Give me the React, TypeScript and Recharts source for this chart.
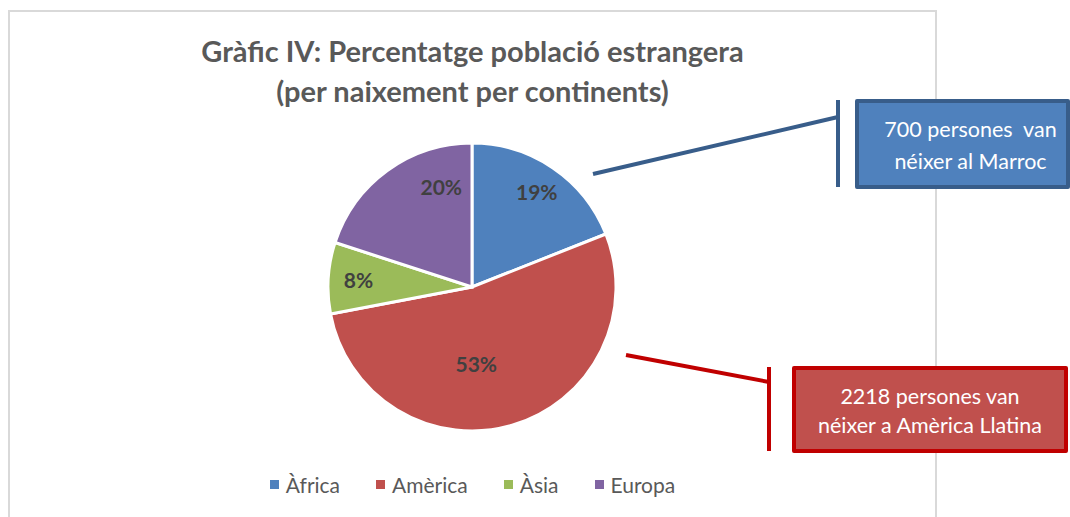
import { PieChart, Pie, Cell, Legend } from "recharts";

// continents and their share (%)
const continents = ["Àfrica", "Amèrica", "Àsia", "Europa"];
const shares = [19, 53, 8, 20];
const colors = ["#4f81bd", "#c0504d", "#9bbb59", "#8064a2"];
// where each percentage label sits: fraction of the radius, and turn from the slice middle (deg)
const labelRadius = [0.8, 0.53, 0.79, 0.73];
const labelTurn = [0, -13, 0, -19];

const titleLines = ["Gràfic IV: Percentatge població estrangera", "(per naixement per continents)"];

const callouts = [
    { text: ["700 persones  van", "néixer al Marroc"], fill: "#4f81bd", border: "#385d8a" },
    { text: ["2218 persones van", "néixer a Amèrica Llatina"], fill: "#c0504d", border: "#c00000" },
];

const FONT = "Lato, 'Open Sans', sans-serif";

const data = continents.map((name, i) => ({ name, value: shares[i] }));

const RAD = Math.PI / 180;

const renderLabel = (props: any) => {
    const { cx, cy, midAngle, outerRadius, index, percent } = props;
    const r = outerRadius * labelRadius[index];
    const a = midAngle + labelTurn[index];
    const x = cx + r * Math.cos(-a * RAD);
    const y = cy + r * Math.sin(-a * RAD);
    return (
        <text x={x} y={y} fill="#404040" fontSize={21} fontWeight={700} fontFamily={FONT}
            textAnchor="middle" dominantBaseline="central">
            {Math.round(percent * 100)}%
        </text>
    );
};

const renderLegend = () => (
    <div style={{ display: "flex", justifyContent: "center", gap: 36, fontFamily: FONT, fontSize: 21, color: "#595959" }}>
        {continents.map((c, i) => (
            <div key={c} style={{ display: "flex", alignItems: "center" }}>
                <span style={{ width: 9, height: 9, background: colors[i], marginRight: 7, display: "inline-block" }} />
                {c}
            </div>
        ))}
    </div>
);

export default function App() {
    return (
        <div style={{ position: "relative", width: 1070, height: 517, overflow: "hidden", background: "#fff" }}>
            <style>{`body{margin:0}`}</style>

            {/* chart area frame */}
            <div style={{ position: "absolute", left: 8, top: 10, width: 925, height: 520, border: "2px solid #d9d9d9" }} />

            <div style={{ position: "absolute", left: 10, top: 31, width: 925, textAlign: "center", fontFamily: FONT, fontWeight: 700, fontSize: 29, color: "#595959", lineHeight: "40px" }}>
                {titleLines.map((t) => <div key={t}>{t}</div>)}
            </div>

            <div style={{ position: "absolute", left: 0, top: 0 }}>
                <PieChart width={1070} height={517} margin={{ top: 0, right: 0, bottom: 0, left: 0 }}>
                    <Pie data={data} dataKey="value" nameKey="name" cx={472} cy={287} outerRadius={144}
                        startAngle={90} endAngle={-270} stroke="#fff" strokeWidth={3}
                        label={renderLabel} labelLine={false} isAnimationActive={false}>
                        {data.map((d, i) => <Cell key={d.name} fill={colors[i]} />)}
                    </Pie>
                    <Legend content={renderLegend} wrapperStyle={{ left: 10, width: 925, top: 472 }} />
                </PieChart>
            </div>

            {/* callout leader lines */}
            <svg width={1070} height={517} style={{ position: "absolute", left: 0, top: 0 }}>
                <line x1={593} y1={174} x2={838} y2={117} stroke="#385d8a" strokeWidth={4} />
                <line x1={838} y1={100} x2={838} y2={187} stroke="#385d8a" strokeWidth={4} />
                <line x1={626} y1={355} x2={769} y2={382} stroke="#c00000" strokeWidth={4} />
                <line x1={769} y1={367} x2={769} y2={451} stroke="#c00000" strokeWidth={4} />
            </svg>

            {/* callout boxes */}
            <div style={{ position: "absolute", left: 855, top: 99, width: 215, height: 90, boxSizing: "border-box", background: callouts[0].fill, border: `4px solid ${callouts[0].border}`, borderRadius: 2, color: "#fff", fontFamily: FONT, fontSize: 21.5, lineHeight: "32px", textAlign: "center", paddingTop: 10, paddingLeft: 16, whiteSpace: "pre" }}>
                {callouts[0].text.map((t) => <div key={t}>{t}</div>)}
            </div>
            <div style={{ position: "absolute", left: 792, top: 366, width: 276, height: 87, boxSizing: "border-box", background: callouts[1].fill, border: `4px solid ${callouts[1].border}`, borderRadius: 2, color: "#fff", fontFamily: FONT, fontSize: 21.5, lineHeight: "29px", textAlign: "center", paddingTop: 12, whiteSpace: "pre" }}>
                {callouts[1].text.map((t) => <div key={t}>{t}</div>)}
            </div>
        </div>
    );
}
